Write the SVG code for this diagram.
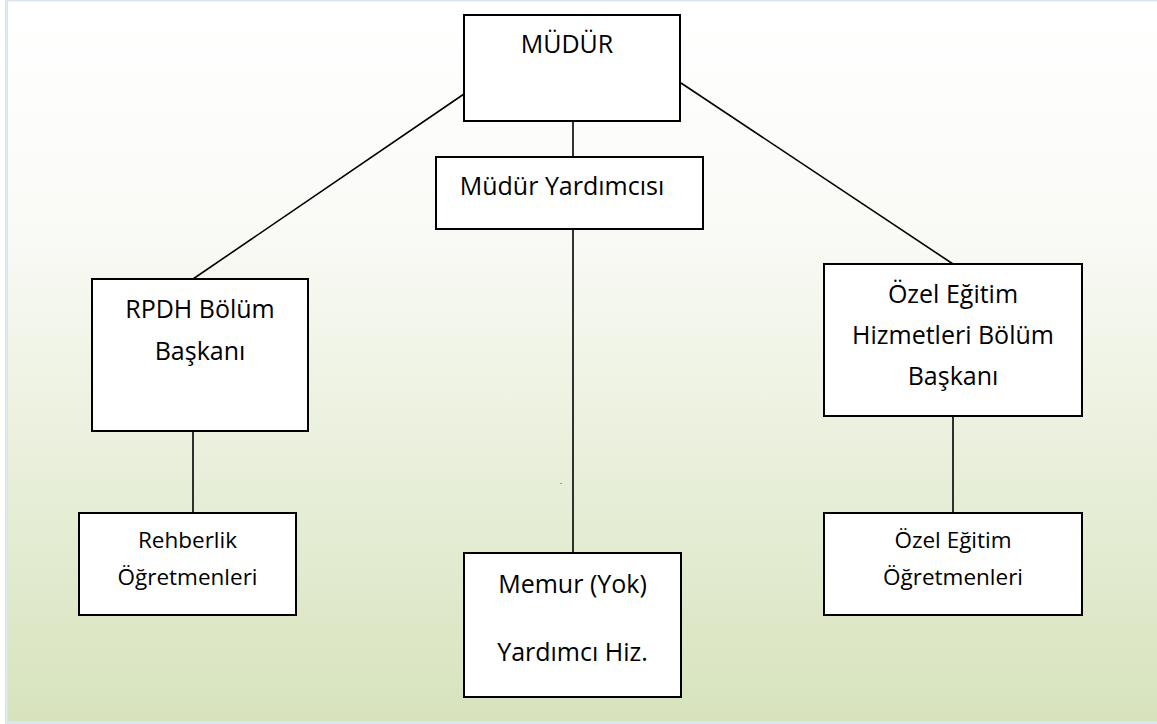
<svg xmlns="http://www.w3.org/2000/svg" width="1157" height="724" viewBox="0 0 1157 724">
  <defs>
    <linearGradient id="bg" x1="0" y1="0" x2="0" y2="1">
      <stop offset="0" stop-color="#ffffff"/>
      <stop offset="0.3" stop-color="#fafbf7"/>
      <stop offset="1" stop-color="#d7e3bd"/>
    </linearGradient>
    <style>
      .box { fill: #ffffff; stroke: #000000; stroke-width: 2; }
      .ln { stroke: #000000; stroke-width: 1.6; fill: none; }
      .t { font-family: "Open Sans", "DejaVu Sans", sans-serif; font-size: 25px; fill: #000000; text-anchor: middle; }
      .s { font-size: 22.5px; }
    </style>
  </defs>
  <rect x="0" y="0" width="1157" height="724" fill="#ffffff"/>
  <rect x="5" y="0" width="1152" height="724" fill="#dce6f2"/>
  <rect x="8" y="1.5" width="1149" height="719.5" fill="url(#bg)"/>

  <g id="connectors">
    <line class="ln" x1="464" y1="94" x2="193" y2="279"/>
    <line class="ln" x1="681" y1="83" x2="953" y2="264"/>
    <line class="ln" x1="573" y1="121" x2="573" y2="157"/>
    <line class="ln" x1="573" y1="229" x2="573" y2="553"/>
    <line class="ln" x1="193" y1="431" x2="193" y2="513"/>
    <line class="ln" x1="953" y1="416" x2="953" y2="513"/>
  </g>

  <g id="mudur">
    <rect class="box" x="464" y="15" width="216" height="106"/>
    <text class="t" x="567" y="53">MÜDÜR</text>
  </g>

  <g id="mudur-yardimcisi">
    <rect class="box" x="436" y="157" width="267" height="72"/>
    <text class="t" x="562" y="195">Müdür Yardımcısı</text>
  </g>

  <g id="rpdh">
    <rect class="box" x="92" y="279" width="216" height="152"/>
    <text class="t" x="200" y="318">RPDH Bölüm</text>
    <text class="t" x="200" y="360">Başkanı</text>
  </g>

  <g id="ozel-egitim-bolum">
    <rect class="box" x="824" y="264" width="258" height="152"/>
    <text class="t" x="953" y="303">Özel Eğitim</text>
    <text class="t" x="953" y="344">Hizmetleri Bölüm</text>
    <text class="t" x="953" y="385">Başkanı</text>
  </g>

  <g id="rehberlik">
    <rect class="box" x="79" y="513" width="217" height="102"/>
    <text class="t s" x="187.5" y="548">Rehberlik</text>
    <text class="t s" x="187.5" y="585">Öğretmenleri</text>
  </g>

  <g id="memur">
    <rect class="box" x="464" y="553" width="217" height="144"/>
    <text class="t" x="572.5" y="593">Memur (Yok)</text>
    <text class="t" x="572.5" y="661">Yardımcı Hiz.</text>
  </g>

  <g id="ozel-egitim-ogretmenleri">
    <rect class="box" x="824" y="513" width="258" height="102"/>
    <text class="t s" x="953" y="548">Özel Eğitim</text>
    <text class="t s" x="953" y="585">Öğretmenleri</text>
  </g>

  <text x="561" y="484" style="font-family: 'Open Sans', sans-serif; font-size: 8px; fill: #000000; text-anchor: middle;">.</text>
</svg>
